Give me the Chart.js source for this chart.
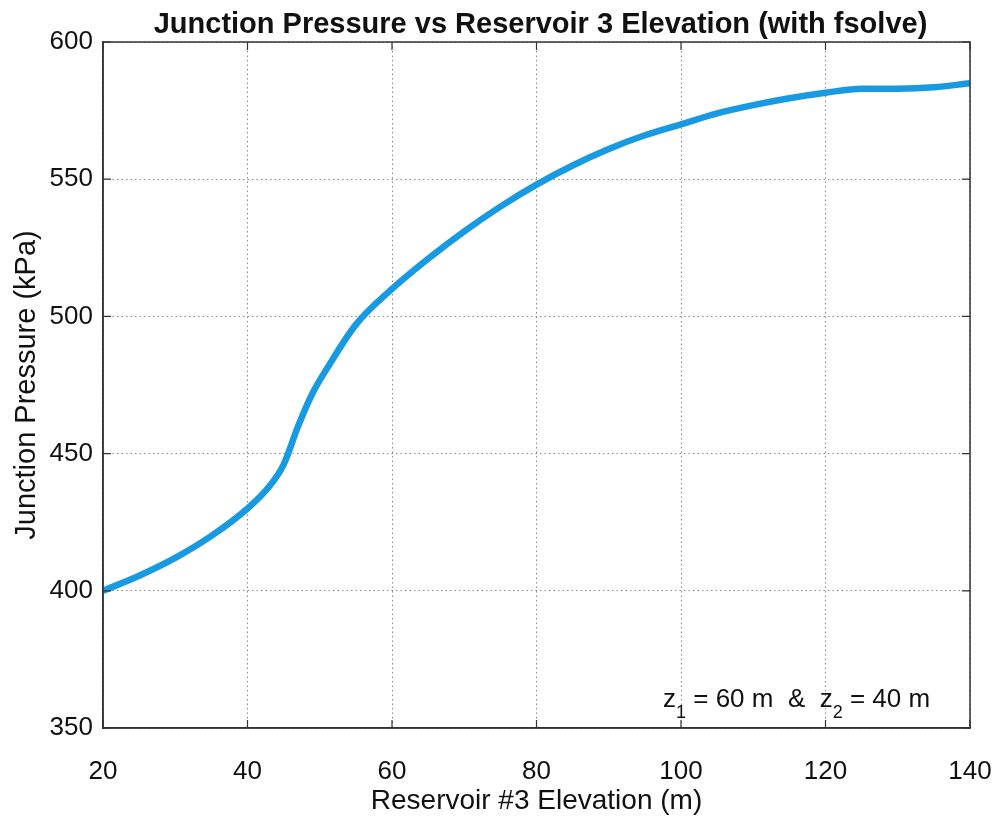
<!DOCTYPE html>
<html>
<head>
<meta charset="utf-8">
<script src="https://cdn.jsdelivr.net/npm/chart.js@4"></script>
<style>
  html, body { margin: 0; padding: 0; background: #fff; }
  #wrap { width: 995px; height: 825px; }
</style>
</head>
<body>
<div id="wrap"><canvas id="chart" width="995" height="825"></canvas></div>
<script>
// values
const elevation = [20, 25, 30, 35, 40, 43, 45, 47, 49, 51, 55, 60, 65, 70, 75, 80, 85, 90, 95, 100, 105, 110, 115, 120, 125, 130, 135, 140];
const pressure = [400, 405.5, 412, 420, 430, 438, 446, 460, 472, 481, 497, 510, 521, 531, 540, 548, 555, 561, 566, 570, 574, 577, 579.5, 581.5, 583, 583, 583.5, 585];
const xTicks = [20, 40, 60, 80, 100, 120, 140];
const yTicks = [350, 400, 450, 500, 550, 600];

const titleText = 'Junction Pressure vs Reservoir 3 Elevation (with fsolve)';
const xLabel = 'Reservoir #3 Elevation (m)';
const yLabel = 'Junction Pressure (kPa)';

const FONT = '"Liberation Sans", Arial, sans-serif';

// box, inner ticks, title and the z1/z2 note
const extras = {
    id: 'extras',
    afterDraw(chart) {
        const c = chart.ctx;
        const a = chart.chartArea;
        const xs = chart.scales.x, ys = chart.scales.y;
        c.save();
        // solid frame
        c.strokeStyle = '#333';
        c.lineWidth = 1.5;
        c.strokeRect(a.left, a.top, a.right - a.left, a.bottom - a.top);
        // small inward ticks, matlab style
        c.lineWidth = 1.2;
        c.beginPath();
        xTicks.forEach(v => {
            const px = xs.getPixelForValue(v);
            c.moveTo(px, a.bottom); c.lineTo(px, a.bottom - 8);
            c.moveTo(px, a.top); c.lineTo(px, a.top + 8);
        });
        yTicks.forEach(v => {
            const py = ys.getPixelForValue(v);
            c.moveTo(a.left, py); c.lineTo(a.left + 8, py);
            c.moveTo(a.right, py); c.lineTo(a.right - 8, py);
        });
        c.stroke();

        c.fillStyle = '#111';
        c.textAlign = 'center';
        c.textBaseline = 'alphabetic';
        c.font = 'bold 29px ' + FONT;
        c.fillText(titleText, (a.left + a.right) / 2 + 4, 33);

        // note with subscripts
        c.textAlign = 'left';
        const big = '26px ' + FONT;
        const small = '18px ' + FONT;
        let x = 663;
        const y = 707;
        const parts = [
            ['z', big, 0], ['1', small, 11], [' = 60 m  &  ', big, 0],
            ['z', big, 0], ['2', small, 11], [' = 40 m', big, 0]
        ];
        parts.forEach(p => {
            c.font = p[1];
            c.fillText(p[0], x, y + p[2]);
            x += c.measureText(p[0]).width;
        });
        c.restore();
    }
};

const ctx = document.getElementById('chart').getContext('2d');
const chart = new Chart(ctx, {
    type: 'line',
    data: {
        datasets: [{
            data: elevation.map((e, i) => ({ x: e, y: pressure[i] })),
            borderColor: 'rgb(24, 154, 226)',
            borderWidth: 6.5,
            pointRadius: 0,
            fill: false,
            cubicInterpolationMode: 'monotone'
        }]
    },
    options: {
        responsive: false,
        animation: false,
        layout: { padding: { top: 42, right: 25, left: 0, bottom: 7 } },
        plugins: {
            legend: { display: false },
            title: { display: false },
            tooltip: { enabled: false }
        },
        scales: {
            x: {
                type: 'linear',
                min: 20, max: 140,
                afterBuildTicks: s => { s.ticks = xTicks.map(v => ({ value: v })); },
                afterFit: s => { s.height = 825 - 728 - 7; s.paddingLeft = 0; s.paddingRight = 0; },
                grid: { color: '#8a8a8a', lineWidth: 1, drawTicks: false },
                border: { color: '#333', width: 1.5, dash: [1.5, 3] },
                ticks: { color: '#111', padding: 28, maxRotation: 0, font: { family: FONT, size: 26 } },
                title: { display: true, text: xLabel, color: '#111', padding: { top: 0, bottom: 0 }, font: { family: FONT, size: 28 } }
            },
            y: {
                min: 350, max: 600,
                afterBuildTicks: s => { s.ticks = yTicks.map(v => ({ value: v })); },
                afterFit: s => { s.width = 103; },
                grid: { color: '#8a8a8a', lineWidth: 1, drawTicks: false },
                border: { color: '#333', width: 1.5, dash: [1.5, 3] },
                ticks: { color: '#111', padding: 10, font: { family: FONT, size: 26 } },
                title: { display: true, text: yLabel, color: '#111', padding: { top: 10, bottom: 0 }, font: { family: FONT, size: 29 } }
            }
        }
    },
    plugins: [extras]
});
</script>
</body>
</html>
